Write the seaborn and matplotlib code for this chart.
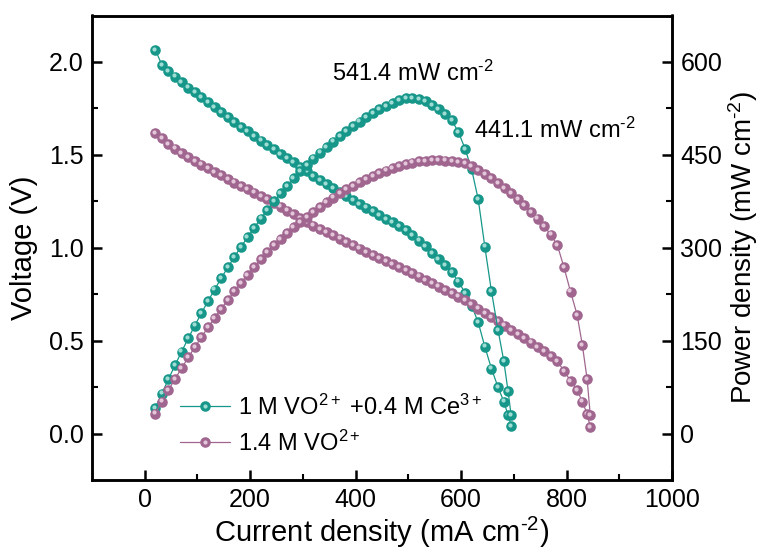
import numpy as np
import seaborn as sns
import matplotlib
matplotlib.use("Agg")
import matplotlib.pyplot as plt
from matplotlib.lines import Line2D
from matplotlib.legend_handler import HandlerTuple
from matplotlib.transforms import ScaledTranslation

# current density (mA cm-2) and cell voltage (V)
ce_current = [20, 32.5, 45, 57.5, 70, 82.5, 95, 107.5, 120, 132.5, 145, 157.5, 170, 182.5,
              195, 207.5, 220, 232.5, 245, 257.5, 270, 282.5, 295, 307.5, 320, 332.5, 345,
              357.5, 370, 382.5, 395, 407.5, 420, 432.5, 445, 457.5, 470, 482.5, 495, 507.5,
              520, 532.5, 545, 557.5, 570, 582.5, 595, 607.5, 620, 632.5, 645, 657.5, 670,
              681, 689, 695]
ce_voltage = [2.065, 1.985, 1.952, 1.921, 1.891, 1.862, 1.836, 1.809, 1.782, 1.755, 1.729,
              1.703, 1.677, 1.651, 1.626, 1.601, 1.577, 1.553, 1.530, 1.506, 1.482, 1.459,
              1.436, 1.411, 1.387, 1.364, 1.341, 1.319, 1.298, 1.277, 1.256, 1.236, 1.216,
              1.196, 1.176, 1.156, 1.136, 1.115, 1.093, 1.066, 1.038, 1.008, 0.972, 0.940,
              0.906, 0.868, 0.818, 0.757, 0.688, 0.598, 0.468, 0.350, 0.250, 0.172, 0.100,
              0.042]

vo_current = [20, 32.5, 45, 57.5, 70, 82.5, 95, 107.5, 120, 132.5, 145, 157.5, 170, 182.5,
              195, 207.5, 220, 232.5, 245, 257.5, 270, 282.5, 295, 307.5, 320, 332.5, 345,
              357.5, 370, 382.5, 395, 407.5, 420, 432.5, 445, 457.5, 470, 482.5, 495, 507.5,
              520, 532.5, 545, 557.5, 570, 582.5, 595, 607.5, 620, 632.5, 645, 657.5, 670,
              682.5, 695, 707.5, 720, 732.5, 745, 757.5, 770, 782.5, 795, 807.5, 820, 830,
              839, 845]
vo_voltage = [1.618, 1.588, 1.560, 1.534, 1.510, 1.489, 1.468, 1.447, 1.427, 1.408, 1.389,
              1.370, 1.351, 1.333, 1.315, 1.297, 1.280, 1.261, 1.241, 1.221, 1.200, 1.179,
              1.158, 1.137, 1.119, 1.101, 1.083, 1.066, 1.049, 1.031, 1.013, 0.995, 0.977,
              0.961, 0.945, 0.928, 0.912, 0.896, 0.879, 0.862, 0.845, 0.827, 0.809, 0.791,
              0.773, 0.755, 0.737, 0.718, 0.696, 0.673, 0.650, 0.627, 0.604, 0.581, 0.558,
              0.535, 0.512, 0.489, 0.466, 0.442, 0.417, 0.389, 0.338, 0.284, 0.234, 0.172,
              0.105, 0.035]

# power density = current density x voltage
ce_power = np.array(ce_current) * np.array(ce_voltage)
vo_power = np.array(vo_current) * np.array(vo_voltage)

labels = [r"1 M VO$^{\mathregular{2+}}$ +0.4 M Ce$^{\mathregular{3+}}$",
          r"1.4 M VO$^{\mathregular{2+}}$"]
peak_labels = [r"541.4 mW cm$^{\text{-2}}$", r"441.1 mW cm$^{\text{-2}}$"]

teal = "#17978A"
teal_hi = "#9FDCD4"
mauve = "#A0668F"
mauve_hi = "#E3C6DA"

sns.set_style("ticks")
plt.rcParams["font.family"] = ["Liberation Sans", "DejaVu Sans"]
plt.rcParams["mathtext.fontset"] = "custom"
plt.rcParams["mathtext.rm"] = "Liberation Sans"
plt.rcParams["mathtext.it"] = "Liberation Sans:italic"
plt.rcParams["mathtext.bf"] = "Liberation Sans:bold"
for key in ["text.color", "axes.labelcolor", "xtick.color", "ytick.color", "axes.edgecolor"]:
    plt.rcParams[key] = "black"

fig = plt.figure(figsize=(7.66, 5.53), dpi=100)
ax = fig.add_axes([92 / 766, 1 - 480 / 553, 580 / 766, 464.5 / 553])
ax2 = ax.twinx()

hi_shift = ScaledTranslation(-1.2 / 100, 1.2 / 100, fig.dpi_scale_trans)
ms = 7.6
hs = 3.0

def draw_curve(axis, x, y, color, hi_color):
    sns.lineplot(x=x, y=y, ax=axis, color=color, lw=0.9, marker="o",
                 markersize=ms, markeredgewidth=0, sort=False, legend=False)
    axis.plot(x, y, ls="none", marker="o", ms=hs, color=hi_color, mew=0,
              transform=axis.transData + hi_shift)

draw_curve(ax, ce_current, ce_voltage, teal, teal_hi)
draw_curve(ax, vo_current, vo_voltage, mauve, mauve_hi)
draw_curve(ax2, ce_current, ce_power, teal, teal_hi)
draw_curve(ax2, vo_current, vo_power, mauve, mauve_hi)

ax.set_xlim(-100, 1000)
ax.set_ylim(-0.25, 2.25)
ax2.set_ylim(-75, 675)
ax.set_xticks([0, 200, 400, 600, 800, 1000])
ax.set_xticks([100, 300, 500, 700, 900], minor=True)
ax.set_yticks([0.0, 0.5, 1.0, 1.5, 2.0])
ax.set_yticks([0.25, 0.75, 1.25, 1.75], minor=True)
ax2.set_yticks([0, 150, 300, 450, 600])
ax2.set_yticks([75, 225, 375, 525], minor=True)
ax.yaxis.set_major_formatter(matplotlib.ticker.FormatStrFormatter("%.1f"))

for a in (ax, ax2):
    for s in a.spines.values():
        s.set_linewidth(1.8)
        s.set_visible(True)
        s.set_color("black")
    a.tick_params(which="major", direction="in", length=7, width=1.8, labelsize=18, pad=6)
    a.tick_params(which="minor", direction="in", length=4, width=1.5)
ax.tick_params(axis="both", which="both", top=False, right=False)
ax2.tick_params(axis="y", which="both", left=False, right=True)

ax.set_xlabel(r"Current density (mA cm$^{\text{-2}}$)", fontsize=21, labelpad=2)
ax.set_ylabel("Voltage (V)", fontsize=21, labelpad=8)
ax2.set_ylabel(r"Power density (mW cm$^{\text{-2}}$)", fontsize=20, labelpad=3)

ax.text(355, 1.94, peak_labels[0], fontsize=17, va="center", ha="left")
ax.text(625, 1.63, peak_labels[1], fontsize=17, va="center", ha="left")

h1 = (Line2D([], [], color=teal, lw=0.9, marker="o", ms=ms, mew=0),
      Line2D([], [], ls="none", marker="o", ms=hs, color=teal_hi, mew=0))
h2 = (Line2D([], [], color=mauve, lw=0.9, marker="o", ms=ms, mew=0),
      Line2D([], [], ls="none", marker="o", ms=hs, color=mauve_hi, mew=0))
ax.legend([h1, h2], labels, handler_map={tuple: HandlerTuple(ndivide=1, pad=0)},
          loc="lower left", bbox_to_anchor=(0.12, 0.012), frameon=False, fontsize=17,
          handlelength=2.1, handletextpad=0.35, labelspacing=0.45, borderpad=0.3)

fig.savefig("out.png", dpi=100)
